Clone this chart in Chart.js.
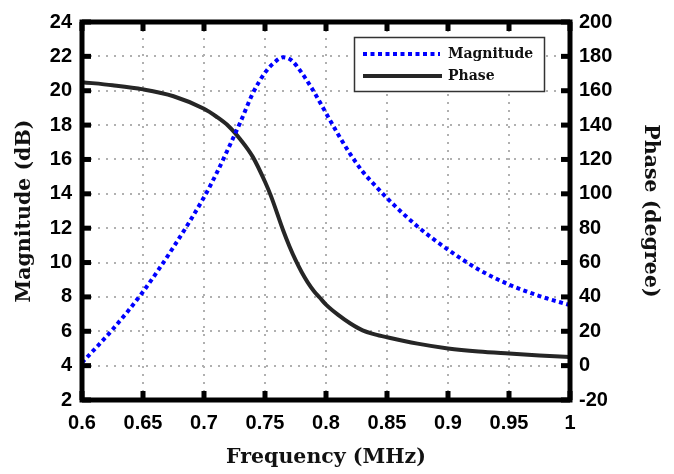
<!DOCTYPE html>
<html><head><meta charset="utf-8">
<script src="https://cdn.jsdelivr.net/npm/chart.js@4.4.1/dist/chart.umd.min.js"></script>
<style>html,body{margin:0;padding:0;background:#fff}#wrap{width:674px;height:474px}</style>
</head><body><div id="wrap"><canvas id="c" width="674" height="474"></canvas></div>
<script>
const magFreq   = [0.6, 0.625, 0.65, 0.675, 0.7, 0.71, 0.72, 0.73, 0.74, 0.75, 0.757, 0.765, 0.772, 0.78, 0.79, 0.8, 0.81, 0.82, 0.83, 0.84, 0.85, 0.875, 0.9, 0.925, 0.95, 0.975, 1.0];
const magnitude = [4.17, 6.1, 8.3, 10.9, 13.8, 15.15, 16.65, 18.2, 19.85, 21.05, 21.6, 21.95, 21.75, 21.05, 19.95, 18.7, 17.45, 16.3, 15.3, 14.5, 13.75, 12.1, 10.75, 9.6, 8.72, 8.05, 7.52];
const phaseFreq = [0.6, 0.625, 0.65, 0.675, 0.7, 0.71, 0.72, 0.73, 0.74, 0.75, 0.755, 0.765, 0.77, 0.775, 0.78, 0.785, 0.79, 0.795, 0.8, 0.81, 0.82, 0.83, 0.84, 0.85, 0.875, 0.9, 0.925, 0.95, 0.975, 1.0];
const phase     = [165, 163.2, 160.8, 156.8, 149.5, 145, 139.5, 131.5, 121.5, 107, 98.5, 78.5, 69.5, 61.5, 54.5, 48.5, 43.5, 39.5, 35.5, 29.5, 24.5, 20.5, 18.2, 16.5, 12.8, 10, 8.2, 7, 5.9, 5];
const xTicks      = [0.6, 0.65, 0.7, 0.75, 0.8, 0.85, 0.9, 0.95, 1.0];
const xTickLabels = ['0.6', '0.65', '0.7', '0.75', '0.8', '0.85', '0.9', '0.95', '1'];
const leftTicks   = [2, 4, 6, 8, 10, 12, 14, 16, 18, 20, 22, 24];
const rightTicks  = [-20, 0, 20, 40, 60, 80, 100, 120, 140, 160, 180, 200];
const seriesNames = ['Magnitude', 'Phase'];
const xTitle = 'Frequency (MHz)';
const leftTitle = 'Magnitude (dB)';
const rightTitle = 'Phase (degree)';

const tickFont = {family: 'Liberation Sans', weight: 'bold', size: 20};
const titleFont = {family: 'DejaVu Serif', weight: 'bold', size: 20.5};
const gridOpts = {color: '#b0b0b0', lineWidth: 2, drawTicks: false};

const framePlugin = {
  id: 'frame',
  afterDraw(chart) {
    const {ctx, chartArea: a, scales} = chart;
    ctx.save();
    ctx.fillStyle = '#000';
    const T = 5, L = 9;
    xTicks.forEach(v => {
      const px = scales.x.getPixelForValue(v);
      ctx.fillRect(px - T / 2, a.bottom - L, T, L);
      ctx.fillRect(px - T / 2, a.top, T, L);
    });
    leftTicks.forEach(v => {
      const py = scales.y.getPixelForValue(v);
      ctx.fillRect(a.left, py - T / 2, L, T);
    });
    rightTicks.forEach(v => {
      const py = scales.y1.getPixelForValue(v);
      ctx.fillRect(a.right - L, py - T / 2, L, T);
    });
    ctx.strokeStyle = '#000';
    ctx.lineWidth = 5;
    ctx.strokeRect(a.left, a.top, a.right - a.left, a.bottom - a.top);

    // legend
    const bx = 354.5, by = 37.5, bw = 190, bh = 54;
    ctx.fillStyle = '#fff';
    ctx.fillRect(bx, by, bw, bh);
    ctx.strokeStyle = '#333';
    ctx.lineWidth = 1.5;
    ctx.strokeRect(bx, by, bw, bh);
    const rows = [54, 76];
    chart.data.datasets.forEach((ds, i) => {
      const y = rows[i];
      ctx.beginPath();
      ctx.strokeStyle = ds.borderColor;
      ctx.lineWidth = ds.borderWidth;
      ctx.setLineDash(ds.borderDash || []);
      ctx.moveTo(363, y);
      ctx.lineTo(i === 0 ? 440 : 442, y);
      ctx.stroke();
      ctx.setLineDash([]);
      ctx.fillStyle = '#111';
      ctx.font = 'bold 14px "DejaVu Serif"';
      ctx.textBaseline = 'middle';
      ctx.textAlign = 'left';
      ctx.fillText(ds.label, 448, y);
    });
    ctx.restore();
  }
};

new Chart(document.getElementById('c'), {
  type: 'line',
  data: {
    datasets: [
      {
        label: seriesNames[0],
        data: magFreq.map((f, i) => ({x: f, y: magnitude[i]})),
        yAxisID: 'y',
        borderColor: '#0000ff',
        borderWidth: 4,
        borderDash: [4, 3.5],
        borderCapStyle: 'butt',
        pointRadius: 0,
        cubicInterpolationMode: 'monotone',
        fill: false
      },
      {
        label: seriesNames[1],
        data: phaseFreq.map((f, i) => ({x: f, y: phase[i]})),
        yAxisID: 'y1',
        borderColor: '#262626',
        borderWidth: 4,
        pointRadius: 0,
        cubicInterpolationMode: 'monotone',
        fill: false
      }
    ]
  },
  options: {
    responsive: false,
    animation: false,
    devicePixelRatio: 1,
    layout: {padding: {top: 12, left: 0, right: 0, bottom: 0}},
    plugins: {legend: {display: false}, tooltip: {enabled: false}},
    scales: {
      x: {
        type: 'linear', min: 0.6, max: 1,
        afterBuildTicks: s => { s.ticks = xTicks.map(v => ({value: v})); },
        afterFit: s => { s.height = 74; },
        ticks: {font: tickFont, color: '#000', padding: 11, maxRotation: 0, autoSkip: false,
          callback: (v, i) => xTickLabels[i]},
        grid: gridOpts,
        border: {display: false, dash: [2, 6]},
        title: {display: true, text: xTitle, font: titleFont, color: '#111', padding: {top: 0, bottom: 4}}
      },
      y: {
        type: 'linear', position: 'left', min: 2, max: 24,
        afterBuildTicks: s => { s.ticks = leftTicks.map(v => ({value: v})); },
        afterFit: s => { s.width = 82; },
        ticks: {font: tickFont, color: '#000', padding: 10, autoSkip: false},
        grid: gridOpts,
        border: {display: false, dash: [2, 6]},
        title: {display: true, text: leftTitle, font: titleFont, color: '#111', padding: {top: 12, bottom: 0}}
      },
      y1: {
        type: 'linear', position: 'right', min: -20, max: 200,
        afterBuildTicks: s => { s.ticks = rightTicks.map(v => ({value: v})); },
        afterFit: s => { s.width = 104; },
        ticks: {font: tickFont, color: '#000', padding: 9, autoSkip: false},
        grid: {display: false, drawTicks: false},
        border: {display: false},
        title: {display: true, text: rightTitle, font: titleFont, color: '#111', padding: {top: 11, bottom: 0}}
      }
    }
  },
  plugins: [framePlugin]
});
</script>
</body></html>
